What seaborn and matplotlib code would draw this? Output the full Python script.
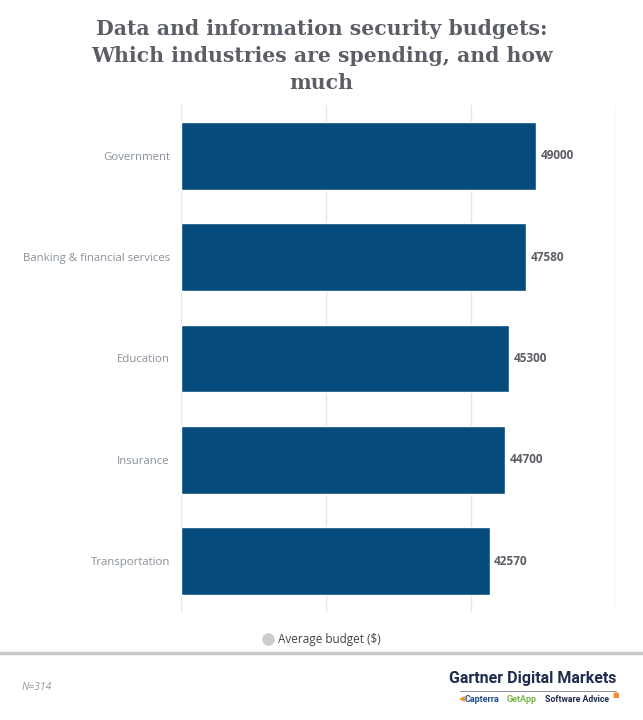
import matplotlib
matplotlib.use("Agg")
import matplotlib.pyplot as plt
import seaborn as sns
import pandas as pd

industries = ["Government", "Banking & financial services", "Education",
              "Insurance", "Transportation"]
budgets = [49000, 47580, 45300, 44700, 42570]
grid_ticks = [0, 20000, 40000, 60000]

sns.set_style("white")
plt.rcParams['font.family'] = ['Open Sans', 'DejaVu Sans']

df = pd.DataFrame({"industry": industries, "budget": budgets})

fig = plt.figure(figsize=(6.43, 7.2), dpi=100)
ax = fig.add_axes([181 / 643, 1 - 612 / 720, 435 / 643, 507 / 720])

sns.barplot(data=df, y="industry", x="budget", color="#054c7d", width=0.67,
            saturation=1, ax=ax, orient="h")

ax.set_xlim(0, 60000)
ax.set_xticks(grid_ticks)
ax.set_xticklabels([])
ax.tick_params(axis="x", length=0)
ax.tick_params(axis="y", length=0, labelsize=8.2, labelcolor="#88919a", pad=8)
ax.grid(axis="x", color="#e6e6e6", linewidth=1)
ax.set_axisbelow(True)
for s in ax.spines.values():
    s.set_visible(False)
ax.set_xlabel("")
ax.set_ylabel("")

for i, v in enumerate(budgets):
    ax.text(v + 600, i, str(v), va="center", ha="left", fontsize=8.5,
            fontweight="bold", color="#5b5e66")

fig.text(0.5, 1 - 56 / 720,
         "Data and information security budgets:\nWhich industries are spending, and how\nmuch",
         ha="center", va="center", fontsize=14.7, fontweight="bold",
         color="#5b5e66", family=["DejaVu Serif"], linespacing=1.45)

# legend
fig.text(0.5 + 0.012, 1 - 639 / 720, "Average budget ($)", ha="center", va="center",
         fontsize=8.5, color="#444444")
fig.lines.append(plt.Line2D([268 / 643], [1 - 639 / 720], marker="o", markersize=8,
                            color="#cccccc", transform=fig.transFigure))

# separator
fig.lines.append(plt.Line2D([0, 1], [1 - 653 / 720] * 2, color="#c8c8c8",
                            linewidth=2.5, transform=fig.transFigure))

fig.text(22 / 643, 1 - 687 / 720, "N=314", ha="left", va="center", fontsize=7.5,
         style="italic", color="#9a9a9a")

fig.text(616 / 643, 1 - 679 / 720, "Gartner Digital Markets", ha="right", va="center",
         fontsize=11.5, fontweight="bold", color="#1f2d4d", family=["Roboto", "DejaVu Sans"])
fig.lines.append(plt.Line2D([460 / 643, 616 / 643], [1 - 691 / 720] * 2,
                            color="#8a8f9a", linewidth=0.7, transform=fig.transFigure))
fig.text(459 / 643, 1 - 700 / 720, "\u25c0", ha="left", va="center", fontsize=5.5,
         color="#f28c28")
fig.text(465 / 643, 1 - 700 / 720, "Capterra", ha="left", va="center", fontsize=6.5,
         fontweight="bold", color="#1f4e8c", family=["Roboto", "DejaVu Sans"])
fig.text(507 / 643, 1 - 700 / 720, "GetApp", ha="left", va="center", fontsize=6.5,
         fontweight="bold", color="#7ab648", family=["Roboto", "DejaVu Sans"])
fig.text(545 / 643, 1 - 700 / 720, "Software Advice", ha="left", va="center", fontsize=6.3,
         fontweight="bold", color="#1f2d4d", family=["Roboto", "DejaVu Sans"])
fig.text(612 / 643, 1 - 696 / 720, "\u25a0", ha="left", va="center", fontsize=5,
         color="#f28c28")

fig.savefig("out.png", dpi=100)
